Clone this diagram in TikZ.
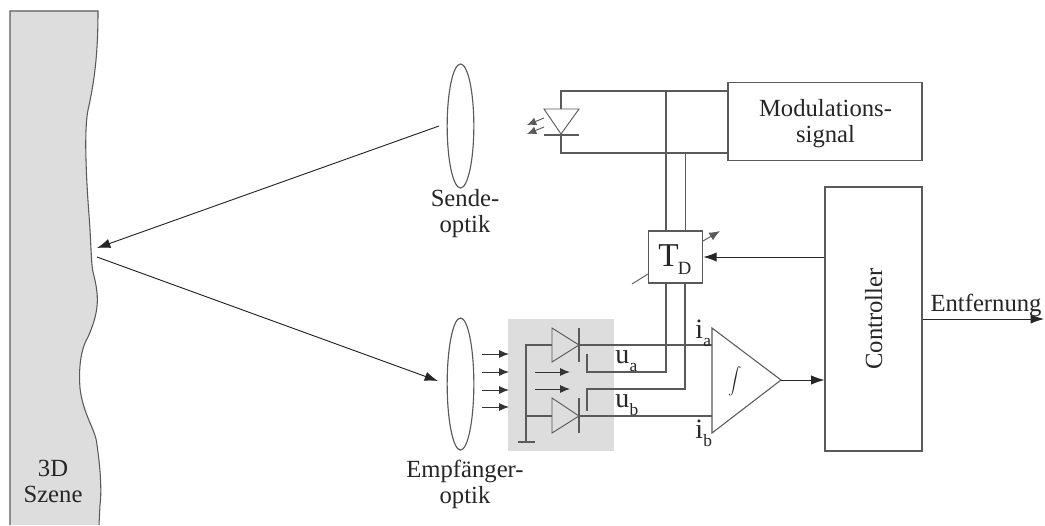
\documentclass[tikz,border=0pt]{standalone}
\usepackage{fontspec}
\setmainfont{Liberation Serif}
\usetikzlibrary{arrows.meta,shapes.geometric}
\definecolor{ln}{HTML}{5A5A5A}
\definecolor{pale}{HTML}{DDDDDD}
\newcommand{\mylab}[2]{{\fontsize{21pt}{22pt}\selectfont #1}\kern0.3pt\raisebox{-6pt}{\fontsize{13pt}{14pt}\selectfont #2}}
\tikzset{
  wire/.style={draw=ln,line width=0.8pt},
  thin wire/.style={draw=ln,line width=0.7pt},
  arr/.style={draw=black!85,line width=0.7pt,-{Latex[length=10pt,width=7pt]}},
  small arr/.style={draw=black!80,line width=0.7pt,-{Latex[length=7.5pt,width=6pt]}},
  blockbox/.style={draw=ln,line width=0.8pt,fill=white,inner sep=0pt,minimum width=0pt},
  lens/.style={ellipse,draw=ln,line width=0.85pt,fill=white,inner sep=0pt,minimum width=20pt},
  lbl/.style={font=\fontsize{18.5pt}{19.5pt}\selectfont,align=center,text=black!85,inner sep=0pt,anchor=base},
  idx/.style={text=black!85,inner sep=0pt}
}
\begin{document}
\begin{tikzpicture}[x=0.75pt,y=-0.75pt]
\useasboundingbox (0,0) rectangle (1045,525);
\fill[white] (0,0) rectangle (1045,525);
% scene
\draw[fill=pale,draw=ln,line width=0.8pt] (10,525) -- (10,11) -- (98,11)
  .. controls (98,45) and (96,75) .. (88,110)
  .. controls (84,130) and (86,175) .. (89,215)
  .. controls (91,240) and (91,262) .. (93,272)
  .. controls (99,295) and (100,310) .. (88,337)
  .. controls (79,352) and (79,375) .. (80,388)
  .. controls (83,415) and (96,430) .. (97,445)
  .. controls (100,465) and (102,490) .. (100,505)
  -- (99,525);
\node[lbl] (szene) at (53,502) {3D\\Szene};
% grey detector area
\fill[pale] (508,319) rectangle (614,451);
% lenses
\node[lens,minimum height=93pt] (sende) at (460.5,126) {};
\node[lens,minimum height=99pt] (empf) at (460.5,384) {};
\node[lbl] (sendetxt) at (465,232) {Sende-\\optik};
\node[lbl] (empftxt) at (465,503) {Empfänger-\\optik};
% beams
\coordinate (sceneT) at (97,248);
\coordinate (sceneB) at (97,257);
\coordinate (sendeL) at (439,126);
\coordinate (empfL) at (438,381);
\draw[arr] (sendeL) -- (sceneT);
\draw[arr] (sceneB) -- (empfL);
% boxes
\node[blockbox,minimum width=145.5pt,minimum height=59pt] (mod) at (825,121.5) {};
\node[lbl] (modtxt) at (825.5,142) {Modulations-\\signal};
\node[blockbox,minimum width=72.75pt,minimum height=198pt] (ctrl) at (873.5,319) {};
\node[lbl,rotate=90] (ctrltxt) at (882,319) {Controller};
\node[blockbox,minimum width=41pt,minimum height=39pt] (td) at (675.5,257) {};
\node[idx,font=\fontsize{25pt}{26pt}\selectfont] (tdT) at (668.5,256) {T};
\node[idx,font=\fontsize{14pt}{15pt}\selectfont] (tdD) at (684.5,268) {D};
% LED
\coordinate (ledtop) at (561,109);
\coordinate (ledbar) at (561,135);
\coordinate (modT) at (mod.west |- 0,91);
\coordinate (modB) at (mod.west |- 0,153);
\coordinate (j1) at (666,91);
\coordinate (j2) at (666,153);
\coordinate (j3) at (685,153);
\draw[wire] (ledtop) -- (561,91) -- (modT);
\draw[wire] (ledbar) -- (561,153) -- (modB);
\draw[thin wire] (544,109) -- (579,109) -- (561,134) -- cycle;
\draw[wire] (544,135) -- (579,135);
\draw[thin wire,-{Latex[length=7pt,width=6pt]}] (544,118) -- (527,125);
\draw[thin wire,-{Latex[length=7pt,width=6pt]}] (544,127) -- (527,134);
% lines to TD
\draw[wire] (j1) -- (j1 |- td.north);
\draw[thin wire] (j3) -- (j3 |- td.north);
\coordinate (ua) at (587,354);
\coordinate (ub) at (587,411);
\draw[wire] (j1 |- td.south) -- (666,372) -- (587,372) -- (ua);
\draw[wire] (j3 |- td.south) -- (685,389) -- (587,389) -- (ub);
% TD adjust
\coordinate (adjA) at (632,284);
\coordinate (adjB) at (648,274);
\coordinate (adjC) at (703,241);
\coordinate (adjD) at (720,231);
\draw[thin wire] (adjA) -- (adjB);
\draw[thin wire,-{Latex[length=8pt,width=6.5pt]}] (adjC) -- (adjD);
\draw[arr] (ctrl.west |- td.east) -- (td.east);
% integrator
\coordinate (inta) at (712,345);
\coordinate (intb) at (712,416);
\coordinate (intout) at (781,380);
\draw[wire,fill=white] (712,328) -- (712,433) -- (intout) -- cycle;
\node[idx,font=\fontsize{13pt}{14pt}\selectfont] (integ) at (735,381) {$\displaystyle\int$};
\draw[arr] (intout) -- (intout -| ctrl.west);
% output
\coordinate (out) at (1044,319);
\draw[arr] (ctrl.east |- out) -- (out);
\node[lbl] (enttxt) at (986,311) {Entfernung};
% diodes
\coordinate (da) at (579,345);
\coordinate (db) at (579,416);
\coordinate (gnd) at (526,442);
\draw[thin wire] (552,328) -- (579,345) -- (552,362) -- cycle;
\draw[thin wire] (552,398) -- (579,416) -- (552,433) -- cycle;
\draw[wire] (579,328) -- (579,362);
\draw[wire] (579,398) -- (579,433);
\draw[wire] (552,345) -- (526,345) -- (gnd);
\draw[wire] (526,416) -- (552,416);
\draw[wire] (518,442) -- (535,442);
\draw[wire] (da) -- (inta);
\draw[wire] (db) -- (intb);
% light arrows
\draw[small arr] (535,372) -- (570,372);
\draw[small arr] (535,389) -- (570,389);
\draw[small arr] (482,354) -- (509,354);
\draw[small arr] (482,372) -- (509,372);
\draw[small arr] (482,390) -- (509,390);
\draw[small arr] (482,407) -- (509,407);
% labels
\node[idx,anchor=base west] (ualbl) at (615,363) {\mylab{u}{a}};
\node[idx,anchor=base west] (ublbl) at (615,407) {\mylab{u}{b}};
\node[idx,anchor=base west] (ialbl) at (695,338) {\mylab{i}{a}};
\node[idx,anchor=base west] (iblbl) at (695,438) {\mylab{i}{b}};
\end{tikzpicture}
\end{document}
